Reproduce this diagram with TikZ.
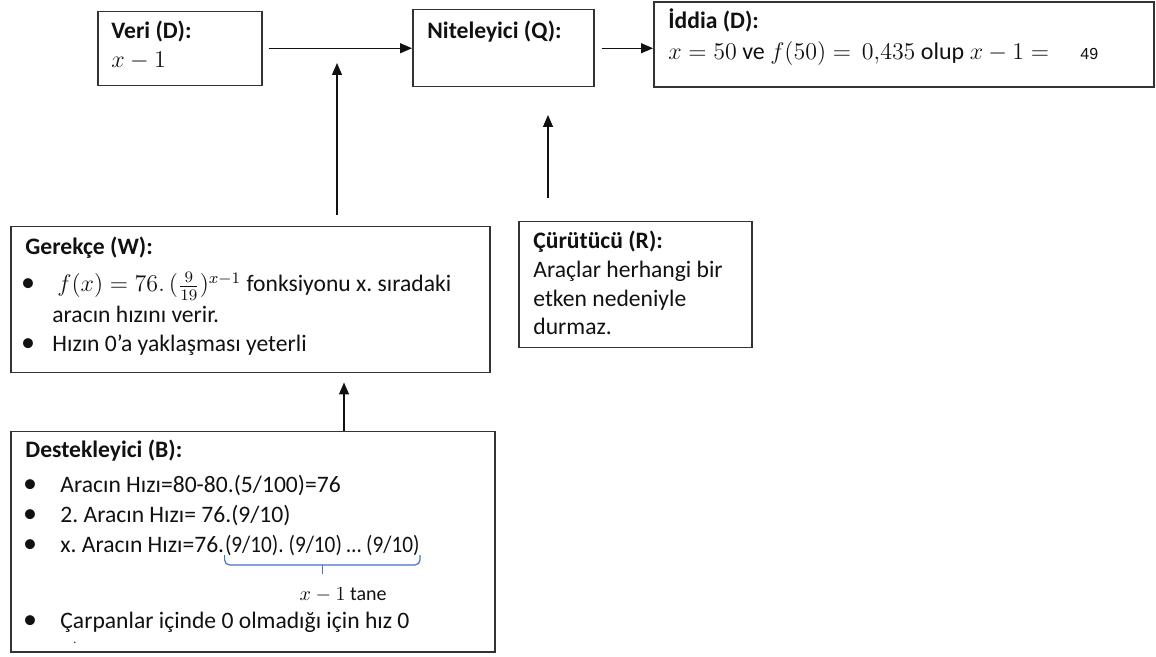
\documentclass[tikz,border=0pt]{standalone}
\usepackage{amsmath}
\usepackage[no-math]{fontspec}
\setmainfont{Carlito}
\newfontfamily\arialfont{Liberation Sans}
\usetikzlibrary{arrows.meta}
\definecolor{boxline}{HTML}{333333}
\definecolor{ink}{HTML}{111111}
\definecolor{bracecol}{HTML}{4472C4}
\frenchspacing
\newcommand{\bodysize}{\fontsize{11.8}{14}\selectfont}
\tikzset{
  box/.style={draw=boxline, line width=0.75pt, anchor=north west, inner sep=0pt},
  txt/.style={anchor=base west, inner sep=0pt, text=ink, font=\bodysize},
  head/.style={txt, font=\bodysize\bfseries},
  bul/.style={anchor=base, inner sep=0pt, text=ink, font=\fontsize{14}{14}\selectfont},
  arr/.style={-{Triangle[length=6pt,width=5pt]}, line width=0.65pt, draw=ink},
  bracket/.style={draw=bracecol, line width=0.6pt},
}
\begin{document}
\begin{tikzpicture}[x=0.5pt,y=-0.5pt]
\useasboundingbox (0,0) rectangle (1156,657);

% ---- boxes ----
\node[box, minimum width=82pt,    minimum height=37pt]   (veri)   at (97,11)  {};
\node[box, minimum width=90.5pt,  minimum height=38.5pt] (nit)    at (412,9)  {};
\node[box, minimum width=250pt,   minimum height=42.5pt] (iddia)  at (653,1.5) {};
\node[box, minimum width=239.5pt, minimum height=73pt]   (gerek)  at (10,226) {};
\node[box, minimum width=116.5pt, minimum height=63pt]   (curut)  at (518,221) {};
\node[box, minimum width=242pt,   minimum height=110pt]  (destek) at (10,431) {};

% ---- Veri ----
\node[head] (veriH) at (111,39) {Veri (D):};
\node[txt]  (veriT) at (111,68) {\fontsize{12}{14}\selectfont$x-1$};

% ---- Niteleyici ----
\node[head] (nitH) at (427,39) {Niteleyici (Q):};

% ---- Iddia ----
\node[head] (iddiaH) at (668,29) {İddia (D):};
\node[txt, font=\fontsize{12}{14}\selectfont] (iddiaT) at (668,60)
  {$x=50$ ve $f(50)=$\ \ $0{,}435$ olup $x-1=$};
\node[txt, font=\arialfont\fontsize{8}{9}\selectfont] (iddiaN) at (1080,60) {49};

% ---- Gerekce ----
\node[head] (gerekH) at (25,255) {Gerekçe (W):};
\node[bul] (gb1) at (28,292) {•};
\node[txt] (gl1) at (57,292)
  {\fontsize{11.5}{14}\selectfont$f(x)=76.\,(\tfrac{9}{19})^{x-1}$\bodysize{} fonksiyonu x. sıradaki};
\node[txt] (gl2) at (52,323) {aracın hızını verir.};
\node[bul] (gb2) at (28,352) {•};
\node[txt] (gl3) at (52,352) {Hızın 0’a yaklaşması yeterli};

% ---- Curutucu ----
\node[head] (curutH) at (533,249) {Çürütücü (R):};
\node[txt] (cl1) at (533,278) {Araçlar herhangi bir};
\node[txt] (cl2) at (533,307) {etken nedeniyle};
\node[txt] (cl3) at (533,335) {durmaz.};

% ---- Destekleyici ----
\node[head] (destH) at (25,458) {Destekleyici (B):};
\node[bul] (db1) at (30,492) {•};
\node[txt] (dl1) at (60,492) {Aracın Hızı=80-80.(5/100)=76};
\node[bul] (db2) at (30,522) {•};
\node[txt] (dl2) at (60,522) {2. Aracın Hızı= 76.(9/10)};
\node[bul] (db3) at (30,552) {•};
\node[txt] (dl3) at (60,552) {x. Aracın Hızı=76.};
\node[txt] (prod) at (dl3.base east) {\scalebox{0.9}[1]{(9/10). (9/10) … (9/10)}};
\node[txt, font=\fontsize{10}{12}\selectfont] (tane) at ([xshift=-11.5pt,yshift=-24pt]prod.base)
  {$x-1$ tane};
\node[bul] (db4) at (30,628) {•};
\node[txt] (dl4) at (60,628) {Çarpanlar içinde 0 olmadığı için hız 0};
\node[txt, font=\fontsize{6}{7}\selectfont] (dl5) at (73,643) {.};

% bracket under the repeated factors
\draw[bracket, rounded corners=2.5pt]
  ([yshift=-1.5pt]prod.base west) -- ([yshift=-6.5pt]prod.base west)
  -- ([yshift=-6.5pt]prod.base east) -- ([yshift=-1.5pt]prod.base east);
\draw[bracket] ([yshift=-6.5pt]prod.base) -- ([yshift=-11pt]prod.base);

% ---- connectors ----
\draw[arr] ([xshift=3pt]veri.east |- nit.west) -- (nit.west);
\draw[arr] ([xshift=3.5pt]nit.east) -- (iddia.west |- nit.east);
\coordinate (wtip) at (337,63);
\draw[arr] ([yshift=5.5pt]gerek.north -| wtip) -- (wtip);
\coordinate (rtip) at (548,115);
\draw[arr] ([yshift=11.5pt]curut.north -| rtip) -- (rtip);
\coordinate (bx) at (344,0);
\draw[arr] (destek.north -| bx) -- ([yshift=-4.5pt]gerek.south -| bx);
\end{tikzpicture}
\end{document}
